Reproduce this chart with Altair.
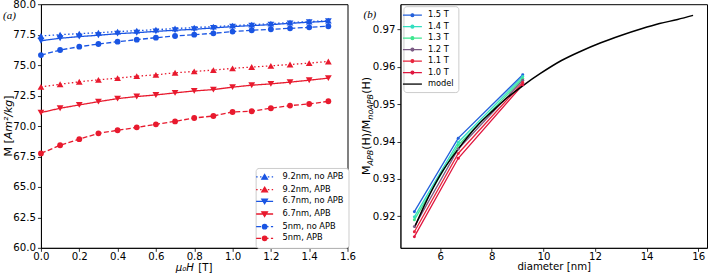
import altair as alt
import pandas as pd

FONT = "DejaVu Sans"
BLUE = "#1a55e3"
RED = "#e81a2e"

# ---------------- left panel data ----------------
H = [0.0, 0.1, 0.2, 0.3, 0.4, 0.5, 0.6, 0.7, 0.8, 0.9, 1.0, 1.1, 1.2, 1.3, 1.4, 1.5]
m92_noapb = [77.39, 77.50, 77.58, 77.66, 77.75, 77.83, 77.91, 78.00, 78.08, 78.16, 78.24, 78.32, 78.40, 78.49, 78.57, 78.65]
m92_apb = [73.21, 73.43, 73.63, 73.79, 73.93, 74.09, 74.20, 74.37, 74.48, 74.59, 74.73, 74.84, 74.94, 75.05, 75.16, 75.30]
m67_noapb = [77.00, 77.20, 77.34, 77.45, 77.58, 77.66, 77.77, 77.86, 77.94, 78.05, 78.16, 78.24, 78.32, 78.43, 78.52, 78.60]
m67_apb = [71.10, 71.46, 71.73, 72.00, 72.25, 72.42, 72.55, 72.72, 72.88, 72.99, 73.19, 73.35, 73.46, 73.60, 73.76, 73.93]
m5_noapb = [75.82, 76.24, 76.51, 76.73, 76.92, 77.09, 77.25, 77.39, 77.50, 77.61, 77.75, 77.86, 77.94, 78.02, 78.10, 78.19]
m5_apb = [67.75, 68.42, 68.92, 69.40, 69.65, 69.89, 70.14, 70.38, 70.66, 70.82, 71.15, 71.21, 71.46, 71.68, 71.81, 72.03]
left_names = ["9.2nm, no APB", "9.2nm, APB", "6.7nm, no APB", "6.7nm, APB", "5nm, no APB", "5nm, APB"]
left_colors = [BLUE, RED, BLUE, RED, BLUE, RED]
left_dashes = [[1.5, 2.4], [1.5, 2.4], [1, 0], [1, 0], [5, 2.4], [5, 2.4]]
left_xticks = [0.0, 0.2, 0.4, 0.6, 0.8, 1.0, 1.2, 1.4, 1.6]
left_yticks = [60.0, 62.5, 65.0, 67.5, 70.0, 72.5, 75.0, 77.5, 80.0]

# ---------------- right panel data ----------------
diam = [5.0, 6.7, 9.2]
r15 = [0.9212, 0.9409, 0.9579]
r14 = [0.9198, 0.9398, 0.9574]
r13 = [0.9190, 0.9390, 0.9569]
r12 = [0.9172, 0.9380, 0.9564]
r11 = [0.9158, 0.9368, 0.9558]
r10 = [0.9145, 0.9355, 0.9552]
field_names = ["1.5 T", "1.4 T", "1.3 T", "1.2 T", "1.1 T", "1.0 T"]
field_colors = ["#2360db", "#33dfc0", "#3ee68f", "#7b5b84", "#e8253d", "#e0163f"]
model_d = [5.0, 5.5, 6.0, 6.7, 7.5, 8.0, 8.5, 9.25, 9.9, 10.7, 11.45, 12.2, 13.0, 13.8, 14.5, 15.2, 15.8]
model_m = [0.9169, 0.9245, 0.9310, 0.9380, 0.9447, 0.9480, 0.9512, 0.9552, 0.9583, 0.9617, 0.9642, 0.9664, 0.9684, 0.9702, 0.9716, 0.9727, 0.9738]
right_xticks = [6, 8, 10, 12, 14, 16]
right_yticks = [0.92, 0.93, 0.94, 0.95, 0.96, 0.97]


def hline_dashed(x0, x1, dash, gap):
    segs = []
    x = x0
    while x < x1 - 1e-6:
        e = min(x + dash, x1)
        segs.append(f"M{x:.3f},0H{e:.3f}")
        x = e + gap
    return "".join(segs)


def txt(s, x, y, size=11, style="normal", angle=0, font=FONT):
    return alt.Chart(pd.DataFrame({"t": [s]})).mark_text(
        angle=angle, align="left", baseline="alphabetic", fontSize=size,
        fontStyle=style, font=font, color="black"
    ).encode(text="t:N", x=alt.value(x), y=alt.value(y))


# ---------------- left chart ----------------
rows = []
for name, vals in zip(left_names, [m92_noapb, m92_apb, m67_noapb, m67_apb, m5_noapb, m5_apb]):
    for h, v in zip(H, vals):
        rows.append({"H": h, "M": v, "series": name})
df_left = pd.DataFrame(rows)

xL = alt.X("H:Q", scale=alt.Scale(domain=[0, 1.6], nice=False, zero=False),
           axis=alt.Axis(values=left_xticks, format=".1f", title=None, labelPadding=0))
yL = alt.Y("M:Q", scale=alt.Scale(domain=[60, 80], nice=False, zero=False),
           axis=alt.Axis(values=left_yticks, format=".1f", title=None))
# reversed domain order for the styling scales so they stay separate from the legend scales
colorL = alt.Color("series:N", scale=alt.Scale(domain=left_names[::-1], range=left_colors[::-1]), legend=None)
dashL = alt.StrokeDash("series:N", scale=alt.Scale(domain=left_names[::-1], range=left_dashes[::-1]), legend=None)

lines_L = alt.Chart(df_left).mark_line(strokeWidth=1.3).encode(x=xL, y=yL, color=colorL, strokeDash=dashL)

points_L = []
for shp, sz, members in [("triangle-up", 46, left_names[0:2]),
                         ("triangle-down", 46, left_names[2:4]),
                         ("circle", 34, left_names[4:6])]:
    points_L.append(
        alt.Chart(df_left)
        .transform_filter(alt.FieldOneOfPredicate(field="series", oneOf=members))
        .mark_point(shape=shp, filled=True, size=sz, opacity=1, strokeWidth=0)
        .encode(x=xL, y=yL, color=colorL)
    )

L0, L1 = -2.125, 2.125
tri_up = "M0,-0.62L0.7,0.55L-0.7,0.55Z"
tri_dn = "M0,0.62L0.7,-0.55L-0.7,-0.55Z"
circ = "M0.55,0A0.55,0.55,0,1,1,-0.55,0A0.55,0.55,0,1,1,0.55,0Z"
dotted = hline_dashed(L0, L1, 0.375, 0.6)
solid = f"M{L0},0H{L1}"
dashed = hline_dashed(L0, L1, 1.25, 0.6)
left_paths = [dotted + tri_up, dotted + tri_up, solid + tri_dn, solid + tri_dn, dashed + circ, dashed + circ]

leg_left = alt.Legend(title=None, orient="none", legendX=215, legendY=164,
                      symbolSize=64, symbolStrokeWidth=1.3, labelFont=FONT,
                      labelFontSize=8.3, labelColor="black", padding=4, rowPadding=1.7,
                      labelOffset=13, fillColor="white", strokeColor="#cccccc",
                      cornerRadius=3)
legend_L = alt.Chart(pd.DataFrame({"series": left_names})).transform_filter("false").mark_point(
    filled=True, opacity=1).encode(
    fill=alt.Fill("series:N", scale=alt.Scale(domain=left_names, range=left_colors), legend=leg_left),
    stroke=alt.Stroke("series:N", scale=alt.Scale(domain=left_names, range=left_colors), legend=leg_left),
    shape=alt.Shape("series:N", scale=alt.Scale(domain=left_names, range=left_paths), legend=leg_left),
)

texts_L = [
    txt("M [", -29, 152.6, 11, angle=270),
    txt("Am²/kg", -29, 135.3, 11, style="italic", angle=270),
    txt("]", -29, 95.6, 11, angle=270),
    txt("μ₀H", 135.0, 267.5, 10.2, style="italic"),
    txt("[T]", 157.5, 267.5, 10.2),
    txt("(a)", -38, 15, 11, style="italic", font="Liberation Serif"),
]

left = alt.layer(lines_L, *points_L, legend_L, *texts_L).properties(width=307, height=244)

# ---------------- right chart ----------------
rrows = []
for name, vals in zip(field_names, [r15, r14, r13, r12, r11, r10]):
    for d, v in zip(diam, vals):
        rrows.append({"d": d, "r": v, "field": name})
df_right = pd.DataFrame(rrows)
df_model = pd.DataFrame({"d": model_d, "r": model_m})

xR = alt.X("d:Q", scale=alt.Scale(domain=[4.46, 16.34], nice=False, zero=False),
           axis=alt.Axis(values=right_xticks, format="d", title="diameter [nm]",
                         titleFont=FONT, titleFontSize=10.2, titleFontWeight="normal",
                         titleColor="black", titlePadding=0, labelPadding=0))
yR = alt.Y("r:Q", scale=alt.Scale(domain=[0.9115, 0.9768], nice=False, zero=False),
           axis=alt.Axis(values=right_yticks, format=".2f", title=None))
colorR = alt.Color("field:N", scale=alt.Scale(domain=field_names[::-1], range=field_colors[::-1]), legend=None)

lines_R = alt.Chart(df_right).mark_line(strokeWidth=1.3).encode(x=xR, y=yR, color=colorR)
points_R = alt.Chart(df_right).mark_point(filled=True, size=9, opacity=1, strokeWidth=0).encode(
    x=xR, y=yR, color=colorR)
model_R = alt.Chart(df_model).mark_line(strokeWidth=1.5, color="black", interpolate="monotone").encode(
    x=xR, y=yR)

R0, R1 = -2.375, 2.375
dot = "M0.35,0A0.35,0.35,0,1,1,-0.35,0A0.35,0.35,0,1,1,0.35,0Z"
right_leg_names = field_names + ["model"]
right_leg_colors = field_colors + ["black"]
right_paths = [f"M{R0},0H{R1}" + dot] * 6 + [f"M{R0},0H{R1}"]
leg_right = alt.Legend(title=None, orient="none", legendX=3, legendY=2,
                       symbolSize=64, symbolStrokeWidth=1.3, labelFont=FONT,
                       labelFontSize=8.3, labelColor="black", padding=4, rowPadding=2.5,
                       labelOffset=10.5, fillColor="white", strokeColor="#cccccc",
                       cornerRadius=3)
legend_R = alt.Chart(pd.DataFrame({"field": right_leg_names})).transform_filter("false").mark_point(
    filled=True, opacity=1).encode(
    fill=alt.Fill("field:N", scale=alt.Scale(domain=right_leg_names, range=right_leg_colors), legend=leg_right),
    stroke=alt.Stroke("field:N", scale=alt.Scale(domain=right_leg_names, range=right_leg_colors), legend=leg_right),
    shape=alt.Shape("field:N", scale=alt.Scale(domain=right_leg_names, range=right_paths), legend=leg_right),
)

texts_R = [
    txt("M", -30, 171, 11, angle=270),
    txt("APB", -27.5, 161.5, 8, style="italic", angle=270),
    txt("(H)/M", -30, 145.7, 11, angle=270),
    txt("noAPB", -27.5, 115.6, 8, style="italic", angle=270),
    txt("(H)", -30, 89.8, 11, angle=270),
    txt("(b)", -37, 13.5, 11, style="italic", font="Liberation Serif"),
]

right = alt.layer(lines_R, model_R, points_R, legend_R, *texts_R).properties(width=307, height=244)

chart = alt.hconcat(left, right, spacing=53, bounds="flush").resolve_scale(
    color="independent", fill="independent", stroke="independent",
    shape="independent", strokeDash="independent"
).configure_view(stroke="black", strokeWidth=1).configure_axis(
    domainColor="black", tickColor="black", labelColor="black", labelFont=FONT,
    labelFontSize=10.2, tickSize=3.5, tickWidth=0.8, domainWidth=0.8, grid=False,
    labelPadding=2, labelFlush=False
).properties(padding={"left": 2, "top": -2, "right": 0, "bottom": 0}, background="white")

chart.save("out.html", embed_options={"renderer": "svg", "actions": False})
